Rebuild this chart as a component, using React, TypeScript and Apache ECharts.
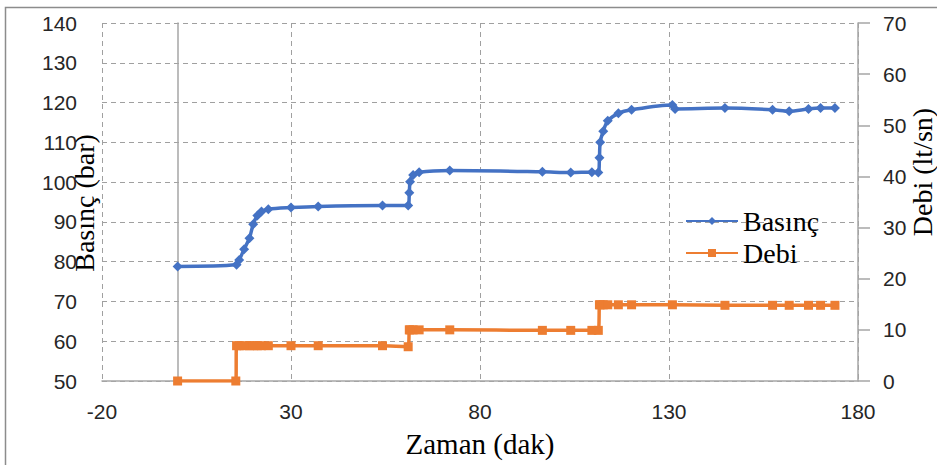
import React, { useEffect, useRef } from "react";
import * as echarts from "echarts";

// Time axis (dak) and measured pressure (bar)
const basincTime = [
  0, 15.6, 16.3, 17.6, 19.0, 20.0, 21.1, 22.2, 24.0,
  30.0, 37.2, 54.2, 61.0,
  61.3, 61.5, 62.3, 63.9, 72.0,
  96.5, 104.0, 109.6, 111.3,
  111.6, 111.8, 112.6, 113.8, 116.6, 120.1,
  130.9, 131.6,
  144.8, 157.4, 161.8, 166.9, 170.1, 173.9,
];
const basinc = [
  78.8, 79.2, 80.4, 83.1, 85.9, 89.4, 91.6, 92.6, 93.2,
  93.6, 93.9, 94.1, 94.1,
  97.3, 100.1, 101.8, 102.5, 102.9,
  102.6, 102.4, 102.5, 102.4,
  106.1, 110.0, 112.8, 115.4, 117.3, 118.2,
  119.4, 118.4,
  118.6, 118.2, 117.8, 118.4, 118.6, 118.6,
];

// Time axis (dak) and flow rate (lt/sn)
const debiTime = [
  0, 15.4, 15.6, 16.3, 17.6, 19.0, 20.0, 21.1, 22.2, 24.0,
  30.0, 37.2, 54.2, 61.0,
  61.3, 61.5, 62.3, 63.9, 72.0,
  96.5, 104.0, 109.6, 111.3,
  111.6, 111.8, 112.6, 113.8, 116.6, 120.1, 130.9,
  144.8, 157.4, 161.8, 166.9, 170.1, 173.9,
];
const debi = [
  0, 0, 6.9, 6.9, 6.9, 6.9, 6.9, 6.9, 6.9, 6.9,
  6.9, 6.9, 6.9, 6.7,
  10, 10, 10, 10, 10,
  9.9, 9.9, 9.9, 9.9,
  14.9, 14.9, 14.9, 14.9, 14.9, 14.9, 14.9,
  14.8, 14.8, 14.8, 14.8, 14.8, 14.8,
];

const xTicks = { min: -20, max: 180, interval: 50 };
const leftTicks = { min: 50, max: 140, interval: 10 };
const rightTicks = { min: 0, max: 70, interval: 10 };

const BLUE = "#4472C4";
const ORANGE = "#ED7D31";
const GRID = "#a0a0a0";
const AXIS = "#a6a6a6";
const LABEL = "#262626";
const SERIF = "'Liberation Serif', 'Times New Roman', serif";
const SANS = "'Liberation Sans', Arial, sans-serif";

const zip = (xs: number[], ys: number[]) => xs.map((x, i) => [x, ys[i]]);

export default function App() {
  const ref = useRef<HTMLDivElement>(null);

  useEffect(() => {
    document.body.style.margin = "0";
    if (!ref.current) return;
    const chart = echarts.init(ref.current, undefined, { renderer: "svg" });

    const dashed = { show: true, lineStyle: { color: GRID, type: [5, 4] as any, width: 1 } };

    chart.setOption({
      animation: false,
      backgroundColor: "#ffffff",
      grid: {
        left: 102,
        right: 79,
        top: 23,
        bottom: 84,
        containLabel: false,
        outerBoundsMode: "none",
      },
      legend: {
        orient: "vertical",
        left: 685,
        top: 207,
        padding: 0,
        itemWidth: 52,
        itemHeight: 10,
        itemGap: 4,
        textStyle: { fontFamily: SERIF, fontSize: 28, color: "#000", lineHeight: 28 },
        data: ["Basınç", "Debi"],
      },
      xAxis: {
        type: "value",
        ...xTicks,
        name: "Zaman (dak)",
        nameLocation: "middle",
        nameGap: 48,
        nameMoveOverlap: false,
        nameTextStyle: { fontFamily: SERIF, fontSize: 29, color: "#000" },
        axisLine: { show: true, onZero: false, lineStyle: { color: AXIS, width: 1.5 } },
        axisTick: { show: false },
        axisLabel: { margin: 20, fontFamily: SANS, fontSize: 21, color: LABEL },
        splitLine: dashed,
      },
      yAxis: [
        {
          type: "value",
          ...leftTicks,
          position: "left",
          axisLine: { show: true, onZero: true, lineStyle: { color: AXIS, width: 1.5 } },
          axisTick: { show: false },
          axisLabel: { margin: 25, fontFamily: SANS, fontSize: 21, color: LABEL },
          splitLine: dashed,
        },
        {
          type: "value",
          ...rightTicks,
          position: "right",
          axisLine: { show: true, onZero: false, lineStyle: { color: AXIS, width: 1.5 } },
          axisTick: { show: true, inside: false, length: 12, lineStyle: { color: AXIS, width: 1.5 } },
          axisLabel: { margin: 25, fontFamily: SANS, fontSize: 21, color: LABEL },
          splitLine: { show: false },
        },
      ],
      graphic: [
        {
          type: "rect",
          silent: true,
          z: -10,
          shape: { x: 5.5, y: 7.5, width: 945, height: 470 },
          style: { fill: "none", stroke: "#8c8c8c", lineWidth: 1.5 },
        },
        // Axis titles, rotated to read bottom-to-top
        {
          type: "text",
          silent: true,
          x: 84,
          y: 203,
          rotation: Math.PI / 2,
          style: {
            text: "Basınç (bar)",
            font: `28px ${SERIF}`,
            fill: "#000",
            align: "center",
            verticalAlign: "middle",
          },
        },
        {
          type: "text",
          silent: true,
          x: 922,
          y: 172,
          rotation: Math.PI / 2,
          style: {
            text: "Debi (lt/sn)",
            font: `28px ${SERIF}`,
            fill: "#000",
            align: "center",
            verticalAlign: "middle",
          },
        },
      ],
      series: [
        {
          name: "Basınç",
          type: "line",
          yAxisIndex: 0,
          data: zip(basincTime, basinc),
          smooth: 0.3,
          symbol: "diamond",
          symbolSize: 10,
          showAllSymbol: true,
          lineStyle: { color: BLUE, width: 3.5 },
          itemStyle: { color: BLUE },
        },
        {
          name: "Debi",
          type: "line",
          yAxisIndex: 1,
          data: zip(debiTime, debi),
          smooth: 0.3,
          symbol: "rect",
          symbolSize: 9,
          showAllSymbol: true,
          lineStyle: { color: ORANGE, width: 3.5 },
          itemStyle: { color: ORANGE },
        },
      ],
    });

    return () => chart.dispose();
  }, []);

  return <div ref={ref} style={{ width: 937, height: 465 }} />;
}
